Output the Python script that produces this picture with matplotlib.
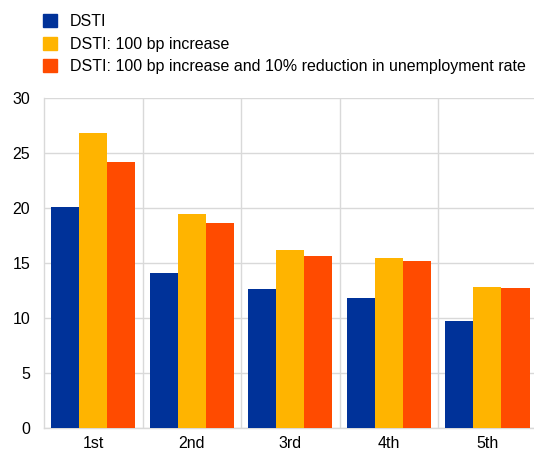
import numpy as np
import matplotlib
matplotlib.use('Agg')
import matplotlib.pyplot as plt
from matplotlib.patches import Patch

plt.rcParams['font.family'] = ['Liberation Sans', 'DejaVu Sans']

categories = ['1st', '2nd', '3rd', '4th', '5th']
series_names = ['DSTI',
                'DSTI: 100 bp increase',
                'DSTI: 100 bp increase and 10% reduction in unemployment rate']
dsti = [20.1, 14.1, 12.6, 11.8, 9.7]
dsti_rate = [26.8, 19.5, 16.2, 15.5, 12.8]
dsti_rate_unemp = [24.2, 18.6, 15.6, 15.2, 12.7]
colors = ['#003299', '#FFB400', '#FF4B00']

fig = plt.figure(figsize=(5.34, 4.55), dpi=100)
ax = fig.add_axes([44 / 534, 1 - 428 / 455, (534 - 44) / 534 + 0.005, (428 - 98) / 455])

x = np.arange(len(categories))
w = 0.285
for i, (vals, c) in enumerate(zip([dsti, dsti_rate, dsti_rate_unemp], colors)):
    ax.bar(x + (i - 1) * w, vals, width=w, color=c, zorder=3)

ax.set_xlim(-0.5, len(categories) - 0.5)
ax.set_ylim(0, 30)
ax.set_yticks(np.arange(0, 31, 5))
ax.set_xticks(x)
ax.set_xticklabels(categories)
ax.set_xticks(np.arange(0.5, len(categories) - 0.5, 1), minor=True)

ax.grid(axis='y', which='major', color='#d9d9d9', linewidth=1, zorder=0)
ax.grid(axis='x', which='minor', color='#d9d9d9', linewidth=1, zorder=0)
ax.tick_params(axis='both', which='both', length=0, labelsize=11.5, colors='#000000')
ax.tick_params(axis='y', pad=10)
ax.tick_params(axis='x', pad=6)
for s in ['top', 'right']:
    ax.spines[s].set_visible(False)
for s in ['left', 'bottom']:
    ax.spines[s].set_color('#d9d9d9')
    ax.spines[s].set_linewidth(1)

handles = [Patch(color=c) for c in colors]
fig.legend(handles, series_names, loc='upper left', bbox_to_anchor=(43 / 534, 1 - 14 / 455),
           frameon=False, fontsize=11.5, handlelength=0.875, handleheight=0.875,
           handletextpad=0.8, labelspacing=0.48, borderaxespad=0, borderpad=0)

fig.savefig('out.png', dpi=100)
